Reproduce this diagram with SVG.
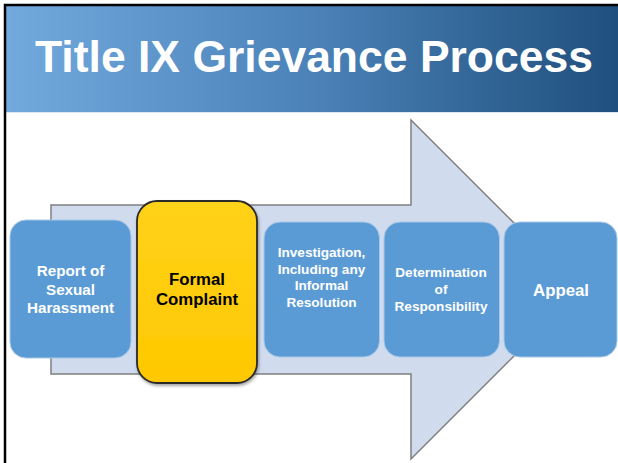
<svg xmlns="http://www.w3.org/2000/svg" width="618" height="463" viewBox="0 0 618 463">
<defs>
<linearGradient id="hdr" x1="0" y1="0" x2="1" y2="0">
<stop offset="0" stop-color="#72aade"/>
<stop offset="0.5" stop-color="#4b82b8"/>
<stop offset="1" stop-color="#1f4f7d"/>
</linearGradient>
<linearGradient id="yel" x1="0" y1="0" x2="0" y2="1">
<stop offset="0" stop-color="#ffd21a"/>
<stop offset="1" stop-color="#ffc800"/>
</linearGradient>
<filter id="sh" x="-10%" y="-10%" width="130%" height="130%">
<feDropShadow dx="1" dy="2" stdDeviation="1.5" flood-color="#000" flood-opacity="0.35"/>
</filter>
<style>
.box{fill:#5b9bd5;stroke:#a8c7e6;stroke-width:1}
.wt{font-family:"Liberation Sans",Arial,sans-serif;font-weight:bold;fill:#ffffff;text-anchor:middle}
.bt{font-family:"Liberation Sans",Arial,sans-serif;font-weight:bold;fill:#000000;text-anchor:middle}
</style>
</defs>
<rect x="0" y="0" width="618" height="463" fill="#ffffff"/>
<g id="header">
<rect x="5" y="5" width="613" height="107" fill="url(#hdr)"/>
<line x1="5" y1="112.5" x2="618" y2="112.5" stroke="#dbe8f5" stroke-width="1"/>
<text x="314" y="72" font-family="Liberation Sans,Arial,sans-serif" font-weight="bold" font-size="44" fill="#ffffff" text-anchor="middle" textLength="558" lengthAdjust="spacingAndGlyphs">Title IX Grievance Process</text>
</g>
<path d="M5 463 V5 H618" fill="none" stroke="#000000" stroke-width="2.5"/>
<g id="connectors">
<path d="M51 205 H411 V120 L580.5 289.5 L411 459 V374 H51 Z" fill="#d0dcee" stroke="#7f7f7f" stroke-width="1.5" stroke-linejoin="miter"/>
</g>
<g id="n1">
<rect class="box" x="10" y="220" width="121" height="138" rx="16"/>
<text class="wt" font-size="15.2" x="70.5" y="276">Report of</text>
<text class="wt" font-size="15.2" x="70.5" y="294.5">Sexual</text>
<text class="wt" font-size="15.2" x="70.5" y="313">Harassment</text>
</g>
<g id="n2">
<rect x="137" y="201" width="120" height="182" rx="20" fill="url(#yel)" stroke="#2b2b2b" stroke-width="1.8" filter="url(#sh)"/>
<text class="bt" font-size="16.8" x="197" y="285">Formal</text>
<text class="bt" font-size="16.8" x="197" y="305">Complaint</text>
</g>
<g id="n3">
<rect class="box" x="264" y="222" width="115.5" height="135" rx="16"/>
<text class="wt" font-size="13.6" x="321.5" y="257">Investigation,</text>
<text class="wt" font-size="13.6" x="321.5" y="273.5">Including any</text>
<text class="wt" font-size="13.6" x="321.5" y="290">Informal</text>
<text class="wt" font-size="13.6" x="321.5" y="306.5">Resolution</text>
</g>
<g id="n4">
<rect class="box" x="384" y="222" width="115.5" height="135" rx="16"/>
<text class="wt" font-size="13.6" x="441" y="277">Determination</text>
<text class="wt" font-size="13.6" x="441" y="294">of</text>
<text class="wt" font-size="13.6" x="441" y="311">Responsibility</text>
</g>
<g id="n5">
<rect class="box" x="504" y="222" width="113" height="135" rx="16"/>
<text class="wt" font-size="16.8" x="561" y="296">Appeal</text>
</g>
</svg>
